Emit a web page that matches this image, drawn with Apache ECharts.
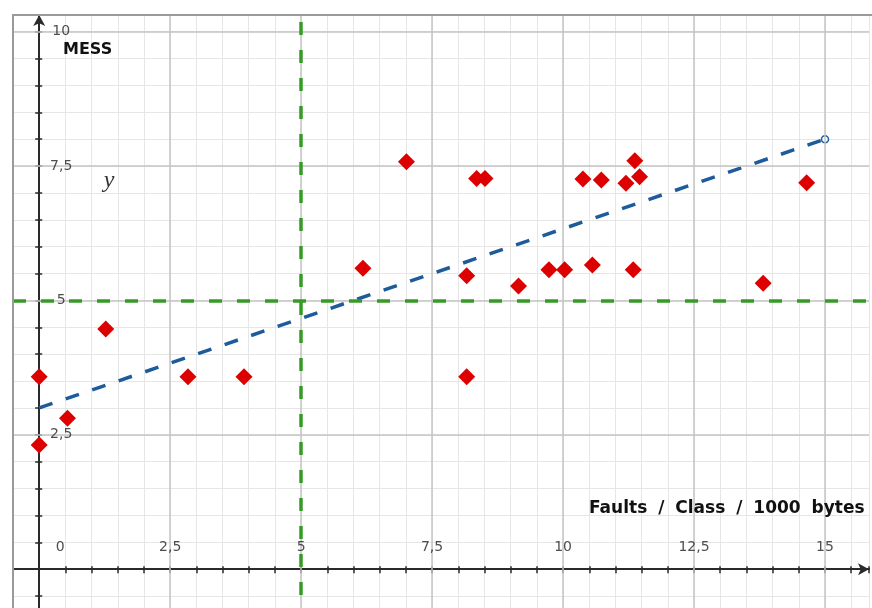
<!DOCTYPE html>
<html><head><meta charset="utf-8">
<script src="https://cdn.jsdelivr.net/npm/echarts@6/dist/echarts.min.js"></script>
<style>html,body{margin:0;padding:0;background:#fff}#c{width:872px;height:608px}</style>
</head><body><div id="c"></div>
<script>
// Data
const messX = [0, 0, 0.54, 1.27, 2.84, 3.91, 6.18, 7.01, 8.16, 8.16, 8.35, 8.51, 9.15, 9.73, 10.03, 10.38, 10.56, 10.73, 11.20, 11.37, 11.46, 11.34, 13.82, 14.65];
const messY = [3.58, 2.31, 2.81, 4.47, 3.58, 3.58, 5.60, 7.58, 5.46, 3.58, 7.27, 7.27, 5.27, 5.57, 5.57, 7.26, 5.66, 7.24, 7.18, 7.60, 7.30, 5.57, 5.32, 7.19];
const trendX = [0, 15];
const trendY = [3, 8];
const thresholdX = [5];
const thresholdY = [5];
const xTickValues = [0, 2.5, 5, 7.5, 10, 12.5, 15];
const xTickLabels = ['0', '2,5', '5', '7,5', '10', '12,5', '15'];
const yTickValues = [2.5, 5, 7.5, 10];
const yTickLabels = ['2,5', '5', '7,5', '10'];
const xNameWords = ['Faults', '/', 'Class', '/', '1000', 'bytes'];
const yName = 'MESS';
const trendName = 'y';

const FONT = 'DejaVu Sans';
const chart = echarts.init(document.getElementById('c'), null, {renderer: 'canvas'});

const majorX = xTickValues.filter(v => v !== 0);
const majorY = yTickValues.filter(v => v !== 0);

const X_MIN = -0.5, X_MAX = 15.84, Y_MIN = -1, Y_MAX = 10.31;
const GRID = {left: 13, top: 15, width: 856, height: 608};

const axisCommon = {
  type: 'value',
  interval: 0.5,
  axisLine: {show: true, onZero: true, symbol: ['none', 'arrow'], symbolSize: [9, 11],
    lineStyle: {color: '#2a2a2a', width: 2}},
  axisTick: {show: true, inside: false, length: 4, lineStyle: {color: '#2a2a2a', width: 1.5}},
  axisLabel: {show: false},
  splitLine: {show: true, lineStyle: {color: '#e6e6e6', width: 1}},
};
// second (tick-only) axes so that tick marks cross the axis lines
const tickOnly = {
  type: 'value', interval: 0.5,
  axisLine: {show: false, onZero: false},
  axisTick: {show: true, inside: true, length: 3, lineStyle: {color: '#2a2a2a', width: 1.5}},
  axisLabel: {show: false}, splitLine: {show: false}
};

const xNameRich = xNameWords.map(w => '{w|' + w + '}').join('{s| }');
const tickLabelStyle = {show: true, position: 'inside', color: '#222', fontFamily: FONT, fontSize: 14};

chart.setOption({
  animation: false,
  backgroundColor: '#ffffff',
  grid: Object.assign({containLabel: false, outerBoundsMode: 'none', show: false}, GRID),
  xAxis: [
    Object.assign({}, axisCommon, {min: X_MIN, max: X_MAX}),
    Object.assign({}, tickOnly, {min: X_MIN, max: X_MAX, position: 'bottom',
      offset: -(GRID.height * (0 - Y_MIN) / (Y_MAX - Y_MIN))})
  ],
  yAxis: [
    Object.assign({}, axisCommon, {min: Y_MIN, max: Y_MAX}),
    Object.assign({}, tickOnly, {min: Y_MIN, max: Y_MAX, position: 'left',
      offset: -(GRID.width * (0 - X_MIN) / (X_MAX - X_MIN))})
  ],
  graphic: [
    {type: 'line', silent: true, z: 50, shape: {x1: 13, y1: 15, x2: 13, y2: 608}, style: {stroke: '#9a9a9a', lineWidth: 2}},
    {type: 'line', silent: true, z: 50, shape: {x1: 12, y1: 15, x2: 872, y2: 15}, style: {stroke: '#9a9a9a', lineWidth: 2}},
    {type: 'text', silent: true, z: 50, x: 63, y: 50, style: {text: yName, font: 'bold 16px "DejaVu Sans"', fill: '#111', verticalAlign: 'middle', align: 'left'}},
    {type: 'text', silent: true, z: 50, x: 589, y: 509, style: {text: xNameRich, verticalAlign: 'middle', align: 'left',
      rich: {
        w: {fontFamily: FONT, fontWeight: 'bold', fontSize: 17, fill: '#111', color: '#111'},
        s: {fontFamily: FONT, fontWeight: 'bold', fontSize: 17, padding: [0, 2.5, 0, 2.5]}
      }}},
    {type: 'text', silent: true, z: 50, x: 109, y: 181, style: {text: trendName, font: 'italic 24px "Liberation Serif"', fill: '#333', verticalAlign: 'middle', align: 'center'}}
  ],
  series: [
    {
      type: 'line', data: [], z: 1, silent: true,
      markLine: {
        silent: true, symbol: 'none', animation: false, label: {show: false},
        lineStyle: {color: '#c4c4c4', width: 1.5, type: 'solid'},
        emphasis: {disabled: true},
        data: majorX.map(v => ({xAxis: v})).concat(majorY.map(v => ({yAxis: v})))
      }
    },
    {
      type: 'line', data: [], z: 3, silent: true,
      markLine: {
        silent: true, symbol: 'none', animation: false, label: {show: false},
        lineStyle: {color: '#379a27', width: 3.5, type: [13, 15]},
        emphasis: {disabled: true},
        data: thresholdX.map(v => ({xAxis: v})).concat(thresholdY.map(v => ({yAxis: v})))
      }
    },
    {
      type: 'line', z: 4, silent: true,
      showSymbol: true,
      lineStyle: {color: '#1d5b9b', width: 3.5, type: [14, 14]},
      data: trendX.map((x, i) => (i === trendX.length - 1
        ? {value: [x, trendY[i]], symbol: 'circle', symbolSize: 7, itemStyle: {color: '#ffffff', borderColor: '#1d5b9b', borderWidth: 1.5}}
        : {value: [x, trendY[i]], symbol: 'none'}))
    },
    {
      type: 'scatter', z: 5, silent: true,
      symbol: 'diamond', symbolSize: 17,
      itemStyle: {color: '#dc0000', opacity: 1},
      data: messX.map((x, i) => [x, messY[i]])
    },
    {
      // x-axis tick labels, placed through the axis scale
      type: 'scatter', z: 6, silent: true, symbolSize: 0,
      label: Object.assign({}, tickLabelStyle, {offset: [0, -22]}),
      data: xTickValues.map((v, i) => ({
        value: [v, 0],
        label: {formatter: xTickLabels[i], offset: v === 0 ? [21, -22] : [0, -22]}
      }))
    },
    {
      // y-axis tick labels
      type: 'scatter', z: 6, silent: true, symbolSize: 0,
      label: Object.assign({}, tickLabelStyle, {offset: [22, 0]}),
      data: yTickValues.map((v, i) => ({
        value: [0, v],
        label: {formatter: yTickLabels[i]}
      }))
    }
  ]
});
</script>
</body></html>
